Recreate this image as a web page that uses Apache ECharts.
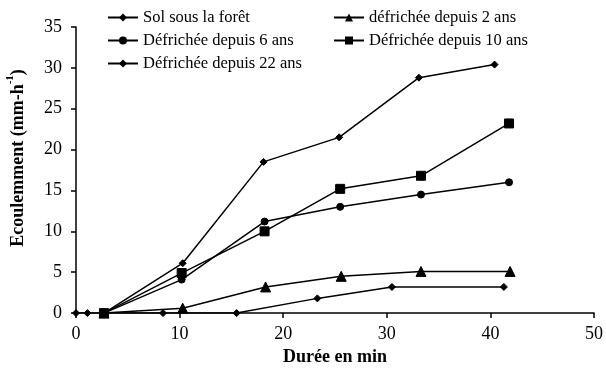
<!DOCTYPE html>
<html><head><meta charset="utf-8">
<script src="https://cdn.jsdelivr.net/npm/echarts@6/dist/echarts.min.js"></script>
<style>html,body{margin:0;padding:0;background:#fff}#c{width:606px;height:371px}</style>
</head><body><div id="c"></div>
<script>
const seriesNames = ["Sol sous la forêt","défrichée depuis 2 ans","Défrichée depuis 6 ans","Défrichée depuis 10 ans","Défrichée depuis 22 ans"];
const solForet = [[0,0],[1.1,0],[8.4,0],[15.5,0],[23.3,1.8],[30.5,3.2],[41.3,3.2]];
const def2 = [[2.7,0],[10.3,0.6],[18.3,3.2],[25.6,4.5],[33.3,5.1],[41.9,5.1]];
const def6 = [[2.7,0],[10.2,4.1],[18.2,11.2],[25.5,13.0],[33.3,14.5],[41.8,16.0]];
const def10 = [[2.7,0],[10.2,4.9],[18.2,10.0],[25.5,15.2],[33.3,16.8],[41.8,23.2]];
const def22 = [[2.7,0],[10.3,6.1],[18.1,18.5],[25.4,21.5],[33.1,28.8],[40.4,30.4]];
const xTitle = "Durée en min";
const yTitleMain = "Ecoulemment (mm-h";
const yTitleSup = "-1";
const symbols = ["diamond","triangle","circle","rect","diamond"];
const symbolSizes = [7,10,7,9,7];
const datasets = [solForet, def2, def6, def10, def22];

const font = "'Liberation Serif','Times New Roman',serif";
const chart = echarts.init(document.getElementById('c'));
const legendText = {fontFamily: font, fontSize: 16.5, color: '#000'};
chart.setOption({
  animation: false,
  textStyle: {fontFamily: font},
  grid: {left: 76, right: 9, top: 27, bottom: 56, containLabel: false},
  legend: [
    {data: [seriesNames[0], seriesNames[2], seriesNames[4]], orient: 'vertical', left: 107, top: 9, padding: 0, itemGap: 6, itemWidth: 30, itemHeight: 10, textStyle: legendText},
    {data: [seriesNames[1], seriesNames[3]], orient: 'vertical', left: 333, top: 9, padding: 0, itemGap: 6, itemWidth: 30, itemHeight: 10, textStyle: legendText}
  ],
  graphic: [{
    type: 'text', x: 16, y: 158, rotation: Math.PI / 2,
    style: {
      text: '{a|' + yTitleMain + '}{s|' + yTitleSup + '}{a|)}',
      align: 'center', verticalAlign: 'middle',
      rich: {
        a: {fontFamily: font, fontSize: 18, fontWeight: 'bold', fill: '#000', verticalAlign: 'bottom', lineHeight: 22},
        s: {fontFamily: font, fontSize: 11, fontWeight: 'bold', fill: '#000', verticalAlign: 'top', lineHeight: 22, padding: [0,0,9,0]}
      }
    }
  }],
  xAxis: {
    type: 'value', min: 0, max: 50, interval: 10,
    name: xTitle, nameLocation: 'middle', nameGap: 34,
    nameTextStyle: {fontFamily: font, fontSize: 18, fontWeight: 'bold', color: '#000'},
    axisLine: {lineStyle: {color: '#000', width: 1.5}},
    axisTick: {show: true, length: 5, lineStyle: {color: '#000', width: 1.5}},
    axisLabel: {fontFamily: font, fontSize: 18, color: '#000', margin: 12},
    splitLine: {show: false}
  },
  yAxis: {
    type: 'value', min: 0, max: 35, interval: 5,
    axisLine: {show: true, lineStyle: {color: '#000', width: 1.5}},
    axisTick: {show: true, length: 5, lineStyle: {color: '#000', width: 1.5}},
    axisLabel: {fontFamily: font, fontSize: 18, color: '#000', margin: 14},
    splitLine: {show: false}
  },
  series: datasets.map((d, i) => ({
    name: seriesNames[i], type: 'line', data: d,
    symbol: symbols[i], symbolSize: symbolSizes[i],
    lineStyle: {color: '#000', width: 1.5},
    itemStyle: {color: '#000', borderColor: '#000'},
    z: 2 + i
  }))
});
</script></body></html>
